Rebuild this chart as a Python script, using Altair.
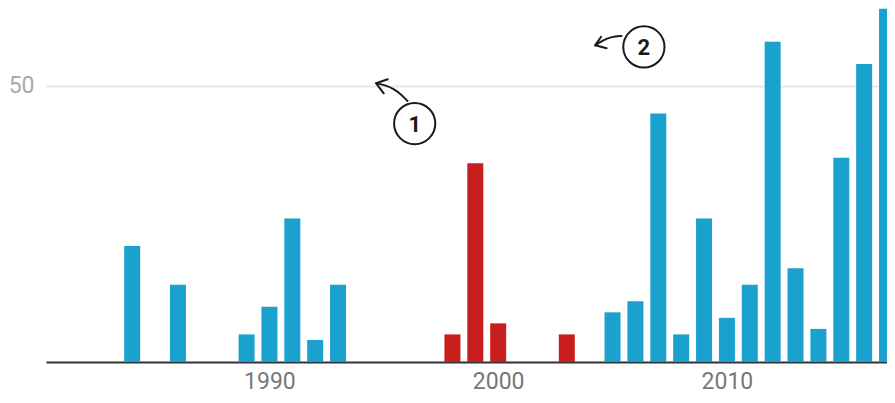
import altair as alt
import pandas as pd

# ---- data ----
years = [1984, 1986, 1989, 1990, 1991, 1992, 1993,
         1998, 1999, 2000, 2003,
         2005, 2006, 2007, 2008, 2009, 2010, 2011, 2012, 2013, 2014, 2015, 2016, 2017]
values = [21, 14, 5, 10, 26, 4, 14,
          5, 36, 7, 5,
          9, 11, 45, 5, 26, 8, 14, 58, 17, 6, 37, 54, 64]
groups = ["blue"] * 7 + ["red"] * 4 + ["blue"] * 13

x_ticks = [1990, 2000, 2010]
y_ticks = [50]

# annotation markers (data coordinates)
marker_labels = ["1", "2"]
marker_x = [1996.35, 2006.37]
marker_y = [43.2, 57.07]

# arrow curves (data coordinates)
arrow1_x = [1996.035, 1995.745, 1995.456, 1995.097, 1994.665]
arrow1_y = [47.28, 48.50, 49.40, 50.13, 50.49]
arrow2_x = [2005.39, 2004.96, 2004.60, 2004.24]
arrow2_y = [59.06, 58.93, 58.33, 57.37]
# arrow heads: barb -> tip -> barb
head1_x = [1995.171, 1994.665, 1994.998]
head1_y = [51.21, 50.49, 48.68]
head2_x = [2004.50, 2004.24, 2004.74]
head2_y = [58.93, 57.37, 56.83]

BLUE = "#1aa1cd"
RED = "#c81e1e"
INK = "#1a1a1a"

df = pd.DataFrame({"year": years, "value": values, "group": groups})

XDOM = [1980.45, 2016.78]
YDOM = [0, 64.13]

xs = alt.Scale(domain=XDOM, nice=False, zero=False)
ys = alt.Scale(domain=YDOM, nice=False)

bars = alt.Chart(df).mark_bar(size=16, clip=True).encode(
    x=alt.X("year:Q", scale=xs,
            axis=alt.Axis(values=x_ticks, format="d", title=None, grid=False,
                          ticks=False, labelFontSize=23, labelColor="#777777",
                          labelFont="Roboto", labelPadding=8,
                          domainColor="#333333", domainWidth=2,
                          labelFlush=False)),
    y=alt.Y("value:Q", scale=ys,
            axis=alt.Axis(values=y_ticks, title=None, domain=False, ticks=False,
                          grid=True, gridColor="#e8e8e8", gridWidth=2,
                          labelFontSize=23, labelColor="#aaaaaa", labelFont="Roboto",
                          labelPadding=12)),
    color=alt.Color("group:N", scale=alt.Scale(domain=["blue", "red"], range=[BLUE, RED]),
                    legend=None),
)

mk = pd.DataFrame({"x": marker_x, "y": marker_y, "label": marker_labels})
circles = alt.Chart(mk).mark_point(shape="circle", size=1700, filled=False,
                                    stroke=INK, strokeWidth=2, opacity=1).encode(
    x=alt.X("x:Q", scale=xs), y=alt.Y("y:Q", scale=ys))
nums = alt.Chart(mk).mark_text(font="Roboto", fontSize=22, fontWeight="bold",
                               color=INK, baseline="middle", align="center",
                               dy=1).encode(
    x=alt.X("x:Q", scale=xs), y=alt.Y("y:Q", scale=ys), text="label:N")


def path_df(xv, yv, name):
    return pd.DataFrame({"x": xv, "y": yv, "o": list(range(len(xv))), "id": [name] * len(xv)})


curves_df = pd.concat([path_df(arrow1_x, arrow1_y, "a1"), path_df(arrow2_x, arrow2_y, "a2")])
heads_df = pd.concat([path_df(head1_x, head1_y, "h1"), path_df(head2_x, head2_y, "h2")])

curves = alt.Chart(curves_df).mark_line(interpolate="basis", color=INK,
                                        strokeWidth=2, strokeCap="round").encode(
    x=alt.X("x:Q", scale=xs), y=alt.Y("y:Q", scale=ys), order="o:Q", detail="id:N")
heads = alt.Chart(heads_df).mark_line(color=INK, strokeWidth=2,
                                      strokeJoin="round", strokeCap="round").encode(
    x=alt.X("x:Q", scale=xs), y=alt.Y("y:Q", scale=ys), order="o:Q", detail="id:N")

chart = alt.layer(bars, curves, heads, circles, nums).properties(
    width=841, height=354,
    autosize=alt.AutoSizeParams(type="none"),
    padding={"left": 38, "top": 0, "right": 0, "bottom": 33},
).configure(background="white").configure_view(strokeWidth=0, stroke="transparent")

chart.save("out.html", embed_options={"renderer": "svg", "actions": False})
